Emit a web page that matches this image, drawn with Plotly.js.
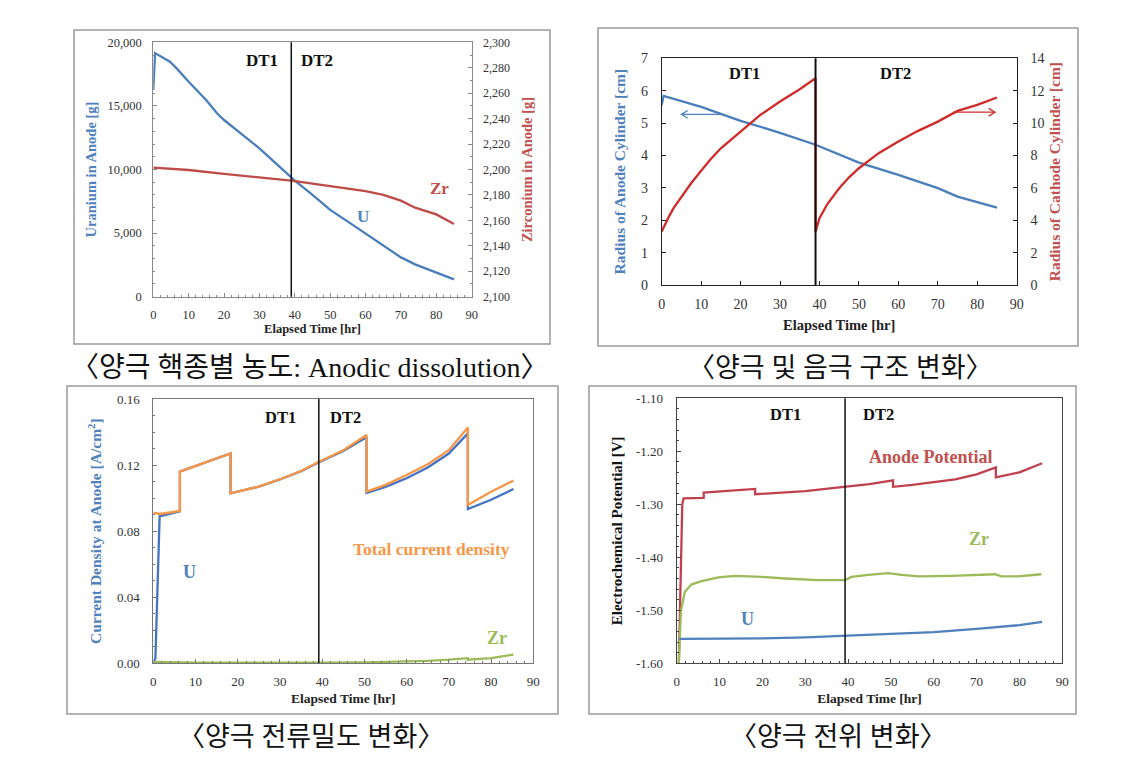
<!DOCTYPE html>
<html>
<head>
<meta charset="utf-8">
<script src="https://cdn.plot.ly/plotly-3.0.1.min.js"></script>
<style>html,body{margin:0;padding:0;background:#fff;}#chart{width:1142px;height:772px;}</style>
</head>
<body>
<div id="chart"></div>
<script>
// ---------- Chart 1: Anodic dissolution ----------
const timeU1 = [0, 0.5, 4.7, 6.6, 10, 15, 18, 20, 30, 39, 40, 45, 50, 55, 60, 65, 70, 74, 80, 85];
const uraniumInAnode = [16250, 19150, 18480, 17950, 16900, 15450, 14420, 13890, 11660, 9440, 9120, 8000, 6820, 5900, 4980, 4010, 3090, 2540, 1910, 1360];
const timeZr1 = [0, 10, 20, 30, 39, 50, 60, 65, 70, 74, 80, 85];
const zirconiumInAnode = [2201.4, 2199.6, 2196.5, 2193.8, 2191.2, 2187, 2183, 2180, 2175.5, 2170, 2164.7, 2157.1];

// ---------- Chart 2: anode / cathode radius ----------
const timeAnode2 = [0, 0.5, 10, 20, 30, 39, 50, 60, 70, 75, 85];
const anodeRadius = [5.56, 5.84, 5.50, 5.07, 4.70, 4.33, 3.78, 3.40, 2.99, 2.73, 2.39];
const timeCathode2 = [0, 1, 2, 3, 5, 7.5, 10, 12.5, 15, 17.5, 20, 25, 30, 35, 39, 39, 40, 41, 42, 45, 47.5, 50, 52.5, 55, 60, 65, 70, 75, 80, 85];
const cathodeRadius = [3.3, 3.85, 4.3, 4.75, 5.45, 6.3, 7.05, 7.8, 8.44, 8.95, 9.43, 10.5, 11.33, 12.09, 12.77, 3.3, 4.12, 4.6, 5.0, 5.97, 6.65, 7.21, 7.7, 8.14, 8.86, 9.52, 10.09, 10.75, 11.12, 11.58];

// ---------- Chart 3: current density ----------
const timeTotal3 = [0, 1.5, 6.3, 6.3, 18.3, 18.3, 25, 30, 35, 39, 45, 50.5, 50.5, 55, 60, 65, 70, 74.5, 74.5, 80, 85.3];
const totalCurrent = [0.0912, 0.0904, 0.0922, 0.116, 0.1271, 0.1029, 0.107, 0.1114, 0.1164, 0.1217, 0.129, 0.1382, 0.1039, 0.108, 0.114, 0.1205, 0.129, 0.1427, 0.0958, 0.1039, 0.1106];
const timeU3 = [0, 0.5, 1.5, 6.3, 6.3, 18.3, 18.3, 25, 30, 35, 39, 45, 50.5, 50.5, 55, 60, 65, 70, 74.5, 74.5, 80, 85.3];
const uCurrent = [0, 0.003, 0.089, 0.092, 0.116, 0.1271, 0.1029, 0.107, 0.1113, 0.1163, 0.1215, 0.1285, 0.1368, 0.1032, 0.1068, 0.112, 0.1185, 0.127, 0.1392, 0.0934, 0.099, 0.1055];
const timeZr3 = [0, 0.5, 10, 20, 30, 40, 50, 60, 65, 70, 74.5, 74.5, 80, 85.3];
const zrCurrent = [0, 0.0008, 0.0004, 0.0003, 0.0003, 0.0004, 0.0006, 0.001, 0.0015, 0.0022, 0.0031, 0.0022, 0.0031, 0.0053];

// ---------- Chart 4: electrochemical potential ----------
const timeAP4 = [0.5, 0.8, 1.3, 1.6, 6.3, 6.3, 18.3, 18.3, 25, 30, 39, 45, 50.5, 50.5, 55, 60, 65, 70, 74.5, 74.5, 80, 85.3];
const anodePotential = [-1.60, -1.50, -1.30, -1.289, -1.288, -1.278, -1.271, -1.281, -1.277, -1.275, -1.267, -1.262, -1.255, -1.267, -1.2635, -1.2585, -1.253, -1.2434, -1.2302, -1.249, -1.2396, -1.2226];
const timeZP4 = [0.5, 1.0, 1.9, 3.5, 5.8, 9.7, 13.6, 17.5, 19.8, 25.3, 33, 39.3, 40.8, 44.7, 49.4, 52.5, 56.4, 64.2, 74.3, 75.8, 79.7, 85.1];
const zrPotential = [-1.60, -1.50, -1.465, -1.451, -1.445, -1.438, -1.435, -1.436, -1.437, -1.440, -1.443, -1.443, -1.437, -1.433, -1.430, -1.433, -1.436, -1.435, -1.432, -1.436, -1.436, -1.432];
const timeUP4 = [0.6, 10, 20, 30, 39, 50, 60, 70, 80, 85.3];
const uPotential = [-1.554, -1.554, -1.553, -1.551, -1.548, -1.545, -1.541, -1.535, -1.528, -1.522];

// ---------- Tick labels / texts ----------
const potTickVals = [-1.6, -1.5, -1.4, -1.3, -1.2, -1.1];
const potTickText = ['-1.60', '-1.50', '-1.40', '-1.30', '-1.20', '-1.10'];
const captions = ['〈양극 핵종별 농도: Anodic dissolution〉', '〈양극 및 음극 구조 변화〉', '〈양극 전류밀도 변화〉', '〈양극 전위 변화〉'];
const dtLabels = ['DT1', 'DT2'];
const dtBoundary = 39;

const W = 1142, H = 772;
const px = v => v / W;
const py = v => 1 - v / H;
const SERIF = 'Liberation Serif, Times New Roman, serif';
const BLUE = '#4A7EBB', RED = '#BE4B48', RED2 = '#D02B2B', GREEN = '#9BBB59', ORANGE = '#F79646', BLUE3 = '#4472C4';

const traces = [
  {x: timeU1, y: uraniumInAnode, xaxis: 'x', yaxis: 'y', mode: 'lines', line: {color: BLUE, width: 2.3}, name: 'U'},
  {x: timeZr1, y: zirconiumInAnode, xaxis: 'x', yaxis: 'y2', mode: 'lines', line: {color: RED, width: 2.3}, name: 'Zr'},
  {x: timeAnode2, y: anodeRadius, xaxis: 'x2', yaxis: 'y3', mode: 'lines', line: {color: BLUE, width: 2.3}, name: 'Anode'},
  {x: timeCathode2, y: cathodeRadius, xaxis: 'x2', yaxis: 'y4', mode: 'lines', line: {color: RED2, width: 2.3}, name: 'Cathode'},
  {x: timeU3, y: uCurrent, xaxis: 'x3', yaxis: 'y5', mode: 'lines', line: {color: BLUE3, width: 2.3}, name: 'U'},
  {x: timeTotal3, y: totalCurrent, xaxis: 'x3', yaxis: 'y5', mode: 'lines', line: {color: ORANGE, width: 2.3}, name: 'Total current density'},
  {x: timeZr3, y: zrCurrent, xaxis: 'x3', yaxis: 'y5', mode: 'lines', line: {color: GREEN, width: 2.3}, name: 'Zr'},
  {x: timeAP4, y: anodePotential, xaxis: 'x4', yaxis: 'y6', mode: 'lines', line: {color: '#C0404D', width: 2.3}, name: 'Anode Potential'},
  {x: timeZP4, y: zrPotential, xaxis: 'x4', yaxis: 'y6', mode: 'lines', line: {color: GREEN, width: 2.3}, name: 'Zr'},
  {x: timeUP4, y: uPotential, xaxis: 'x4', yaxis: 'y6', mode: 'lines', line: {color: '#4F81BD', width: 2.3}, name: 'U'}
];

function xAxis(dom, anchor, lineColor, fs, minor, titleStandoff, titleSize) {
  return {
    domain: dom, anchor: anchor, range: [0, 90], dtick: 10, tick0: 0,
    showgrid: false, zeroline: false, showline: true, mirror: true, linecolor: lineColor, linewidth: 1,
    ticks: 'inside', ticklen: 4, tickcolor: lineColor, ticklabelstandoff: 6,
    minor: minor ? {dtick: 2, ticks: 'inside', ticklen: 2, tickcolor: lineColor} : undefined,
    tickfont: {family: SERIF, size: fs, color: '#333'},
    title: {text: 'Elapsed Time [hr]', font: {family: SERIF, size: titleSize, color: '#222', weight: 'bold'}, standoff: titleStandoff},
    automargin: false, fixedrange: true
  };
}

const layout = {
  width: W, height: H, margin: {l: 0, r: 0, t: 0, b: 0},
  paper_bgcolor: '#fff', plot_bgcolor: '#fff', showlegend: false,
  font: {family: SERIF},
  xaxis: xAxis([px(153.3), px(471.7)], 'y', '#888', 12.5, true, 3, 12.5),
  yaxis: {
    domain: [py(296.7), py(42.3)], anchor: 'x', range: [0, 20000], dtick: 5000, tickformat: ',d',
    showgrid: false, zeroline: false, showline: true, linecolor: '#888', ticks: 'inside', ticklen: 4, tickcolor: '#888',
    minor: {dtick: 1000, ticks: 'inside', ticklen: 2, tickcolor: '#888'}, ticklabelstandoff: 8,
    tickfont: {family: SERIF, size: 12.5, color: '#333'},
    title: {text: 'Uranium in Anode [g]', font: {family: SERIF, size: 14.5, color: '#4F81BD', weight: 'bold'}, standoff: 7},
    automargin: false
  },
  yaxis2: {
    overlaying: 'y', side: 'right', anchor: 'x', range: [2100, 2300], dtick: 20, tickformat: ',d',
    showgrid: false, zeroline: false, showline: true, linecolor: '#888', ticks: 'inside', ticklen: 4, tickcolor: '#888',
    minor: {dtick: 10, ticks: 'inside', ticklen: 2, tickcolor: '#888'}, ticklabelstandoff: 8,
    tickfont: {family: SERIF, size: 12, color: '#333'},
    title: {text: 'Zirconium in Anode [g]', font: {family: SERIF, size: 14.5, color: '#C0504D', weight: 'bold'}, standoff: 12},
    automargin: false
  },
  xaxis2: xAxis([px(661.7), px(1016.7)], 'y3', '#222', 14, false, 9, 14.5),
  yaxis3: {
    domain: [py(285), py(58.3)], anchor: 'x2', range: [0, 7], dtick: 1,
    showgrid: false, zeroline: false, showline: true, linecolor: '#222', ticks: 'inside', ticklen: 4, tickcolor: '#222',
    ticklabelstandoff: 10, tickfont: {family: SERIF, size: 14, color: '#333'},
    title: {text: 'Radius of Anode Cylinder [cm]', font: {family: SERIF, size: 15.5, color: '#4F81BD', weight: 'bold'}, standoff: 11},
    automargin: false
  },
  yaxis4: {
    overlaying: 'y3', side: 'right', anchor: 'x2', range: [0, 14], dtick: 2,
    showgrid: false, zeroline: false, showline: true, linecolor: '#222', ticks: 'inside', ticklen: 4, tickcolor: '#222',
    ticklabelstandoff: 10, tickfont: {family: SERIF, size: 14, color: '#333'},
    title: {text: 'Radius of Cathode Cylinder [cm]', font: {family: SERIF, size: 15.5, color: '#C0504D', weight: 'bold'}, standoff: 5},
    automargin: false
  },
  xaxis3: xAxis([px(153.3), px(533.3)], 'y5', '#777', 13, true, 5, 13.5),
  yaxis5: {
    domain: [py(663.3), py(399)], anchor: 'x3', range: [0, 0.16], dtick: 0.04, tickformat: '.2f',
    showgrid: false, zeroline: false, showline: true, mirror: true, linecolor: '#777', ticks: 'inside', ticklen: 4, tickcolor: '#777',
    minor: {dtick: 0.01, ticks: 'inside', ticklen: 2, tickcolor: '#777'}, ticklabelstandoff: 10,
    tickfont: {family: SERIF, size: 13, color: '#333'},
    title: {text: 'Current Density at Anode [A/cm<sup>2</sup>]', font: {family: SERIF, size: 15.5, color: '#4F81BD', weight: 'bold'}, standoff: 11},
    automargin: false
  },
  xaxis4: xAxis([px(676.7), px(1062.3)], 'y6', '#444', 13, true, 5, 13.5),
  yaxis6: {
    domain: [py(663.3), py(398.3)], anchor: 'x4', range: [-1.6, -1.1], tickvals: potTickVals, ticktext: potTickText,
    showgrid: false, zeroline: false, showline: true, mirror: true, linecolor: '#444', ticks: 'inside', ticklen: 4, tickcolor: '#444',
    minor: {dtick: 0.02, ticks: 'inside', ticklen: 2, tickcolor: '#444'}, ticklabelstandoff: 10,
    tickfont: {family: SERIF, size: 13, color: '#333'},
    title: {text: 'Electrochemical Potential [V]', font: {family: SERIF, size: 15, color: '#111', weight: 'bold'}, standoff: 9},
    automargin: false
  },
  shapes: [
    // panel frames
    {type: 'rect', xref: 'paper', yref: 'paper', x0: px(74), x1: px(550), y0: py(344), y1: py(30), line: {color: '#9a9a9a', width: 1.5}},
    {type: 'rect', xref: 'paper', yref: 'paper', x0: px(598), x1: px(1078), y0: py(346), y1: py(28), line: {color: '#9a9a9a', width: 1.5}},
    {type: 'rect', xref: 'paper', yref: 'paper', x0: px(67), x1: px(558), y0: py(714), y1: py(386), line: {color: '#9a9a9a', width: 1.5}},
    {type: 'rect', xref: 'paper', yref: 'paper', x0: px(589), x1: px(1076), y0: py(714), y1: py(386), line: {color: '#9a9a9a', width: 1.5}},
    // DT1/DT2 boundaries
    {type: 'line', xref: 'x', yref: 'y domain', x0: dtBoundary, x1: dtBoundary, y0: 0, y1: 1, line: {color: '#111', width: 1.5}},
    {type: 'line', xref: 'x2', yref: 'y3 domain', x0: dtBoundary, x1: dtBoundary, y0: 0, y1: 1, line: {color: '#111', width: 2}},
    {type: 'line', xref: 'x3', yref: 'y5 domain', x0: dtBoundary + 0.2, x1: dtBoundary + 0.2, y0: 0, y1: 1, line: {color: '#111', width: 1.5}},
    {type: 'line', xref: 'x4', yref: 'y6 domain', x0: dtBoundary + 0.3, x1: dtBoundary + 0.3, y0: 0, y1: 1, line: {color: '#111', width: 1.5}},
    // axis-pointing arrows (chart 2)
    {type: 'line', xref: 'x2', yref: 'y3', x0: 15, x1: 5, y0: 5.27, y1: 5.27, line: {color: '#4F81BD', width: 1.3}},
    {type: 'path', xref: 'x2', yref: 'y3', path: 'M 6.6,5.39 L 5,5.27 L 6.6,5.15', line: {color: '#4F81BD', width: 1.3}},
    {type: 'line', xref: 'x2', yref: 'y4', x0: 74, x1: 84.5, y0: 10.67, y1: 10.67, line: {color: '#D02B2B', width: 1.3}},
    {type: 'path', xref: 'x2', yref: 'y4', path: 'M 82.9,10.91 L 84.5,10.67 L 82.9,10.43', line: {color: '#D02B2B', width: 1.3}}
  ],
  annotations: []
};

const A = layout.annotations;
function label(xref, yref, x, y, text, color, size) {
  A.push({xref: xref, yref: yref, x: x, y: y, text: text, showarrow: false, xanchor: 'center', yanchor: 'middle',
          font: {family: SERIF, size: size, color: color, weight: 'bold'}});
}
// chart 1
label('x', 'y', 30.7, 18550, dtLabels[0], '#111', 17);
label('x', 'y', 46.3, 18550, dtLabels[1], '#111', 17);
label('x', 'y', 59.4, 6300, 'U', '#4F81BD', 17);
label('x', 'y2', 80.9, 2185, 'Zr', '#C0504D', 17);
// chart 2
label('x2', 'y3', 20.9, 6.54, dtLabels[0], '#111', 16.5);
label('x2', 'y3', 59.3, 6.54, dtLabels[1], '#111', 16.5);
// chart 3
label('x3', 'y5', 30.2, 0.1487, dtLabels[0], '#111', 16.5);
label('x3', 'y5', 45.5, 0.1487, dtLabels[1], '#111', 16.5);
label('x3', 'y5', 8.5, 0.0555, 'U', '#4F81BD', 18);
label('x3', 'y5', 65.9, 0.0692, 'Total current density', '#F79646', 17.5);
label('x3', 'y5', 81.3, 0.0151, 'Zr', '#9BBB59', 18);
// chart 4
label('x4', 'y6', 25.5, -1.131, dtLabels[0], '#111', 16.5);
label('x4', 'y6', 47, -1.131, dtLabels[1], '#111', 16.5);
label('x4', 'y6', 59.3, -1.21, 'Anode Potential', '#C0504D', 18);
label('x4', 'y6', 70.6, -1.365, 'Zr', '#9BBB59', 18);
label('x4', 'y6', 16.6, -1.517, 'U', '#4F81BD', 18);
// captions
const capPos = [[309, 368], [840, 368], [311, 737], [838, 737]];
captions.forEach((c, i) => {
  A.push({xref: 'paper', yref: 'paper', x: px(capPos[i][0]), y: py(capPos[i][1]), text: c, showarrow: false,
          xanchor: 'center', yanchor: 'middle',
          font: {family: 'Liberation Serif, Noto Sans CJK KR, serif', size: i === 0 ? 28 : 27, color: '#111'}});
});

Plotly.newPlot('chart', traces, layout, {staticPlot: true, displayModeBar: false});
</script>
</body>
</html>
